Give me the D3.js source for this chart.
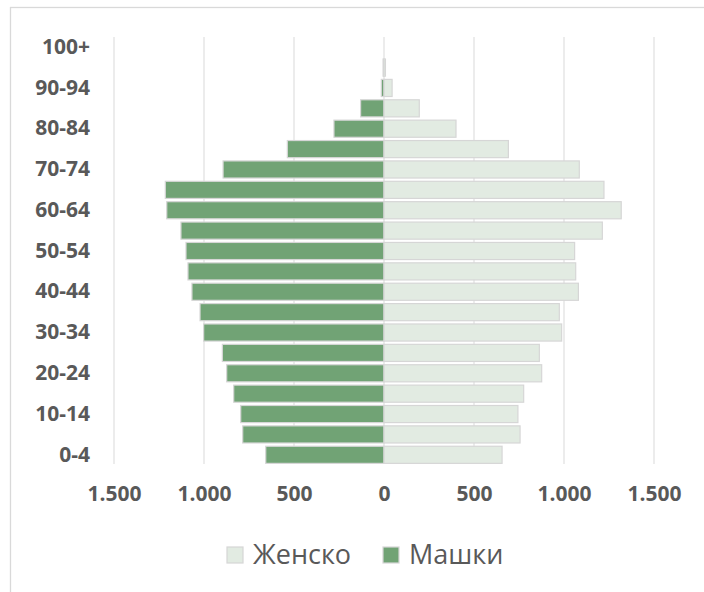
<!DOCTYPE html>
<html>
<head>
<meta charset="utf-8">
<script src="https://cdn.jsdelivr.net/npm/d3@7"></script>
<style>
  body { margin: 0; background: #fff; }
  svg { display: block; }
</style>
</head>
<body>
<svg id="chart" width="704" height="592"></svg>
<script>
// Age groups, bottom to top
const ages = ["0-4", "5-9", "10-14", "15-19", "20-24", "25-29", "30-34", "35-39", "40-44", "45-49",
  "50-54", "55-59", "60-64", "65-69", "70-74", "75-79", "80-84", "85-89", "90-94", "95-99", "100+"];
const male = [657, 785, 796, 835, 874, 898, 1002, 1022, 1067, 1089,
  1100, 1128, 1207, 1215, 894, 537, 278, 130, 15, 5, 0];
const female = [656, 756, 744, 776, 876, 863, 987, 974, 1080, 1065,
  1059, 1213, 1318, 1222, 1085, 691, 400, 196, 45, 8, 0];
const xTicks = [-1500, -1000, -500, 0, 500, 1000, 1500];
const seriesNames = ["Женско", "Машки"];

const colors = { female: "#e2ebe2", male: "#71a375" };
const textColor = "#595959";
const font = "'Open Sans', sans-serif";

const svg = d3.select("#chart");

// chart area frame
svg.append("rect")
  .attr("x", 10.5).attr("y", 7.5)
  .attr("width", 720).attr("height", 620)
  .attr("fill", "#fff")
  .attr("stroke", "#d9d9d9").attr("stroke-width", 1.3);

const x = d3.scaleLinear().domain([-1500, 1500]).range([114, 654]);
const y = d3.scaleBand().domain(ages.slice().reverse()).range([37, 465]).paddingInner(0.16).paddingOuter(0.08);

// gridlines
svg.append("g").selectAll("line")
  .data(xTicks).join("line")
  .attr("x1", d => x(d)).attr("x2", d => x(d))
  .attr("y1", 37).attr("y2", 464)
  .attr("stroke", "#d9d9d9").attr("stroke-width", 1);

const fmt = v => d3.format(",")(Math.abs(v)).replace(/,/g, ".");

// x axis labels (no line)
const xAxis = d3.axisBottom(x).tickValues(xTicks).tickSize(0).tickPadding(0).tickFormat(fmt);
svg.append("g")
  .attr("transform", "translate(0,486)")
  .call(xAxis)
  .call(g => g.select(".domain").remove())
  .call(g => g.selectAll("text")
    .attr("fill", textColor)
    .attr("font-family", font)
    .attr("font-weight", "700")
    .attr("font-size", "21px"));

// y axis labels, every other group
const yAxis = d3.axisLeft(y).tickSize(0).tickPadding(0)
  .tickFormat(d => ages.indexOf(d) % 2 === 0 ? d : "");
svg.append("g")
  .attr("transform", "translate(90,0)")
  .call(yAxis)
  .call(g => g.select(".domain").remove())
  .call(g => g.selectAll("text")
    .attr("fill", textColor)
    .attr("font-family", font)
    .attr("font-weight", "700")
    .attr("font-size", "21px"));

// bars
const bars = svg.append("g");
bars.selectAll("rect.male")
  .data(ages).join("rect")
  .attr("class", "male")
  .attr("x", (d, i) => x(-male[i]))
  .attr("y", d => y(d))
  .attr("width", (d, i) => x(0) - x(-male[i]))
  .attr("height", y.bandwidth())
  .attr("fill", colors.male)
  .attr("stroke", "#d6d6d6").attr("stroke-width", 1.2);

bars.selectAll("rect.female")
  .data(ages).join("rect")
  .attr("class", "female")
  .attr("x", x(0))
  .attr("y", d => y(d))
  .attr("width", (d, i) => x(female[i]) - x(0))
  .attr("height", y.bandwidth())
  .attr("fill", colors.female)
  .attr("stroke", "#d6d6d6").attr("stroke-width", 1.2);

// legend
const legend = svg.append("g").attr("transform", "translate(0,555)");
const legendItems = [
  { name: seriesNames[0], color: colors.female, x: 227 },
  { name: seriesNames[1], color: colors.male, x: 383 }
];
const li = legend.selectAll("g").data(legendItems).join("g")
  .attr("transform", d => `translate(${d.x},0)`);
li.append("rect")
  .attr("x", 0).attr("y", -8)
  .attr("width", 16).attr("height", 16)
  .attr("fill", d => d.color)
  .attr("stroke", "#d6d6d6").attr("stroke-width", 1.2);
li.append("text")
  .attr("x", 26).attr("y", 0).attr("dy", "0.35em")
  .attr("fill", textColor)
  .attr("font-family", font)
  .attr("font-size", "27px")
  .text(d => d.name);
</script>
</body>
</html>
